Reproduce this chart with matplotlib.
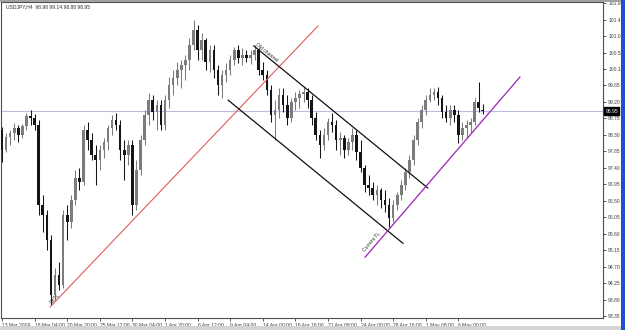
import matplotlib
matplotlib.use("Agg")
import matplotlib.pyplot as plt
from matplotlib.patches import Rectangle
import matplotlib.transforms as mtransforms

symbol_header = "USDJPY,H4  98.98 99.14 98.88 98.95"

opens = [
    98.43, 97.89, 98.24, 98.35, 98.49, 98.29, 98.54, 98.81, 98.76, 98.57,
    96.38, 96.11, 95.43, 93.92, 94.47, 94.20, 96.11, 95.92, 96.52, 97.12,
    97.01, 98.43, 98.16, 97.75, 97.61, 97.89, 98.10, 98.49, 98.70, 98.57,
    97.89, 97.75, 98.02, 96.38, 97.34, 98.16, 98.84, 99.25, 98.92, 99.11,
    98.57, 99.25, 99.66, 99.85, 100.07, 100.21, 100.34, 100.75, 101.16, 100.62,
    100.89, 100.29, 100.62, 100.07, 99.66, 99.93, 100.07, 100.34, 100.62, 100.40,
    100.48, 100.40, 100.48, 100.62, 100.07, 99.93, 99.52, 98.84, 98.98, 99.39,
    99.11, 98.76, 99.20, 99.31, 99.42, 99.47, 99.25, 98.76, 98.29, 98.02,
    98.29, 98.65, 98.57, 98.16, 98.21, 97.89, 98.10, 98.29, 97.83, 97.39,
    96.93, 96.85, 96.66, 96.79, 96.52, 96.38, 96.03, 96.38, 96.66, 96.93,
    97.28, 97.61, 98.16, 98.65, 98.98, 99.25, 99.39, 99.47, 99.31, 98.92,
    98.76, 98.98, 98.84, 98.29, 98.49, 98.57, 98.65, 99.20, 98.98,
]
highs = [
    98.51, 98.35, 98.43, 98.62, 98.57, 98.60, 98.90, 98.98, 98.87, 98.70,
    96.66, 96.25, 95.56, 94.66, 94.83, 96.25, 96.38, 96.66, 97.34, 97.39,
    98.57, 98.65, 98.35, 98.02, 98.02, 98.21, 98.57, 98.84, 98.90, 98.70,
    98.16, 98.16, 98.16, 97.61, 98.29, 98.98, 99.44, 99.39, 99.25, 99.25,
    99.39, 99.88, 100.07, 100.29, 100.34, 100.48, 100.95, 101.44, 101.30, 101.08,
    100.95, 100.75, 100.75, 100.21, 100.07, 100.26, 100.48, 100.70, 100.75, 100.67,
    100.62, 100.62, 100.75, 100.67, 100.29, 100.07, 99.66, 99.25, 99.58, 99.58,
    99.39, 99.31, 99.47, 99.52, 99.63, 99.58, 99.39, 98.92, 98.43, 98.49,
    98.76, 98.90, 98.70, 98.38, 98.29, 98.21, 98.49, 98.43, 98.16, 97.48,
    97.20, 97.01, 96.93, 96.85, 96.79, 96.57, 96.52, 96.74, 97.07, 97.39,
    97.75, 98.29, 98.76, 99.11, 99.39, 99.58, 99.58, 99.61, 99.39, 99.11,
    99.11, 99.11, 98.98, 98.65, 98.70, 98.76, 99.31, 99.74, 99.14,
]
lows = [
    97.56, 97.83, 98.02, 98.16, 98.10, 98.21, 98.43, 98.57, 98.43, 96.11,
    95.65, 95.15, 93.65, 93.79, 94.06, 94.12, 95.43, 95.75, 96.38, 96.79,
    96.93, 97.89, 97.61, 96.93, 97.34, 97.67, 97.89, 98.29, 98.43, 97.61,
    97.07, 97.48, 96.11, 96.25, 97.20, 98.02, 98.57, 98.70, 98.43, 98.43,
    98.43, 99.03, 99.39, 99.66, 99.58, 99.80, 100.07, 100.62, 100.34, 100.34,
    100.07, 100.02, 99.85, 99.39, 99.31, 99.74, 99.93, 100.21, 100.26, 100.21,
    100.29, 100.23, 100.34, 99.93, 99.80, 99.39, 98.65, 98.16, 98.76, 98.92,
    98.57, 98.65, 98.98, 99.03, 99.20, 99.03, 98.57, 98.16, 97.67, 97.89,
    98.16, 98.38, 97.89, 97.75, 97.67, 97.75, 97.89, 97.61, 97.28, 96.74,
    96.66, 96.52, 96.38, 96.30, 96.19, 95.78, 95.92, 96.25, 96.52, 96.79,
    97.12, 97.48, 98.02, 98.49, 98.84, 99.20, 99.25, 99.11, 98.76, 98.65,
    98.57, 98.65, 98.08, 98.16, 98.24, 98.35, 98.57, 98.92, 98.88,
]
closes = [
    97.89, 98.24, 98.35, 98.49, 98.29, 98.54, 98.81, 98.76, 98.57, 96.38,
    96.11, 95.43, 93.92, 94.47, 94.20, 96.11, 95.92, 96.52, 97.12, 97.01,
    98.43, 98.16, 97.75, 97.61, 97.89, 98.10, 98.49, 98.70, 98.57, 97.89,
    97.75, 98.02, 96.38, 97.34, 98.16, 98.84, 99.25, 98.92, 99.11, 98.57,
    99.25, 99.66, 99.85, 100.07, 100.21, 100.34, 100.75, 101.16, 100.62, 100.89,
    100.29, 100.62, 100.07, 99.66, 99.93, 100.07, 100.34, 100.62, 100.40, 100.48,
    100.40, 100.48, 100.62, 100.07, 99.93, 99.52, 98.84, 98.98, 99.39, 99.11,
    98.76, 99.20, 99.31, 99.42, 99.47, 99.25, 98.76, 98.29, 98.02, 98.29,
    98.65, 98.57, 98.16, 98.21, 97.89, 98.10, 98.29, 97.83, 97.39, 96.93,
    96.85, 96.66, 96.79, 96.52, 96.38, 96.03, 96.38, 96.66, 96.93, 97.28,
    97.61, 98.16, 98.65, 98.98, 99.25, 99.39, 99.47, 99.31, 98.92, 98.76,
    98.98, 98.84, 98.29, 98.49, 98.57, 98.65, 99.20, 99.03, 98.95,
]

x_tick_bars = [0, 8, 16, 24, 32, 40, 48, 56, 64, 72, 80, 88, 96, 104, 112]
x_tick_labels = ["13 Mar 2009", "18 Mar 04:00", "20 Mar 20:00", "25 Mar 12:00",
                 "30 Mar 04:00", "1 Apr 20:00", "6 Apr 12:00", "9 Apr 04:00",
                 "14 Apr 00:00", "16 Apr 16:00", "21 Apr 08:00", "24 Apr 00:00",
                 "28 Apr 16:00", "1 May 08:00", "6 May 00:00"]
price_ticks = [93.35, 93.80, 94.25, 94.70, 95.15, 95.60, 96.05, 96.50, 96.95, 97.40,
               97.85, 98.30, 98.75, 99.20, 99.65, 100.10, 100.55, 101.00, 101.45, 101.90]
current_price = 98.95

# trend lines: (bar index, price) endpoints
dntl_line = ([11.8, 77.5], [93.60, 101.27])
old_upper = ([61.8, 104.5], [100.73, 96.85])
old_lower = ([55.5, 98.4], [99.25, 95.34])
current_tl = ([89.1, 127.1], [94.96, 99.88])
line_labels = [("DnTL", 13.0, 93.84, 46), ("Old channel", 65.0, 100.56, -39),
               ("Current TL", 90.8, 95.37, 49)]

FONT = "Liberation Sans"
FS = 3.6

fig = plt.figure(figsize=(6.25, 3.3), dpi=100)
fig.patch.set_facecolor("white")
ax = fig.add_axes([1 / 625, 12 / 330, 602 / 625, 316 / 330])
ax.set_facecolor("white")
ax.set_xlim(-0.25, 147.5)
ax.set_ylim(93.30, 101.93)

# current price line
ax.axhline(current_price, color="#bcbce0", lw=0.8, zorder=1)

# candles
for i in range(len(closes)):
    o, h, l, c = opens[i], highs[i], lows[i], closes[i]
    bull = c >= o
    col = "#7c7c7c" if bull else "#151515"
    ax.plot([i, i], [l, h], color=col, lw=0.75, zorder=2, solid_capstyle="butt")
    bottom = min(o, c)
    height = max(abs(c - o), 0.02)
    ax.add_patch(Rectangle((i - 0.32, bottom), 0.64, height, facecolor=col,
                           edgecolor="none", zorder=3))

# trend lines
ax.plot(*dntl_line, color="#e25a5a", lw=0.8, zorder=4)
ax.plot(*old_upper, color="#101010", lw=0.9, zorder=4)
ax.plot(*old_lower, color="#101010", lw=0.9, zorder=4)
ax.plot(*current_tl, color="#a020b8", lw=0.9, zorder=4)

for txt, xi, yi, rot in line_labels:
    ax.text(xi, yi, txt, rotation=rot, ha="center", va="center",
            rotation_mode="anchor", fontsize=FS, family=FONT, color="#303030", zorder=5)

# header
ax.text(5 / 602, (318 - 7) / 316, symbol_header, transform=ax.transAxes,
        fontsize=FS, family=FONT, color="#303030", ha="left", va="center")

# axes styling
for s in ax.spines.values():
    s.set_color("#505050")
    s.set_linewidth(0.8)

ax.yaxis.tick_right()
ax.set_yticks(price_ticks)
ax.set_yticklabels([f"{p:.2f}" for p in price_ticks])
ax.tick_params(axis="y", direction="out", length=2.5, width=0.6, pad=1.2,
               labelsize=FS, colors="#404040")
ax.set_xticks(x_tick_bars)
ax.set_xticklabels(x_tick_labels)
ax.tick_params(axis="x", direction="out", length=2.5, width=0.6, pad=1.0,
               labelsize=FS, colors="#404040")
for lab in ax.get_xticklabels() + ax.get_yticklabels():
    lab.set_family(FONT)
for lab in ax.get_xticklabels():
    lab.set_ha("left")

# current price box on the price scale
trans = mtransforms.blended_transform_factory(ax.transAxes, ax.transData)
ax.text(1.004, current_price, f"{current_price:.2f}", transform=trans,
        fontsize=FS, family=FONT, color="white", ha="left", va="center", zorder=10,
        bbox=dict(boxstyle="square,pad=0.25", facecolor="black", edgecolor="black"))

# window chrome: right blue border and bottom tab strip
fig.patches.append(Rectangle((621 / 625, 0), 4 / 625, 1, transform=fig.transFigure,
                             facecolor="#1f4fd0", edgecolor="none"))
fig.patches.append(Rectangle((0, 0), 621 / 625, 4 / 330, transform=fig.transFigure,
                             facecolor="#d4d4d4", edgecolor="none"))
fig.patches.append(Rectangle((0, 1 - 1.5 / 330), 621 / 625, 1.5 / 330, transform=fig.transFigure,
                             facecolor="#a0a0a0", edgecolor="none"))

fig.savefig("out.png", dpi=100, facecolor="white")
